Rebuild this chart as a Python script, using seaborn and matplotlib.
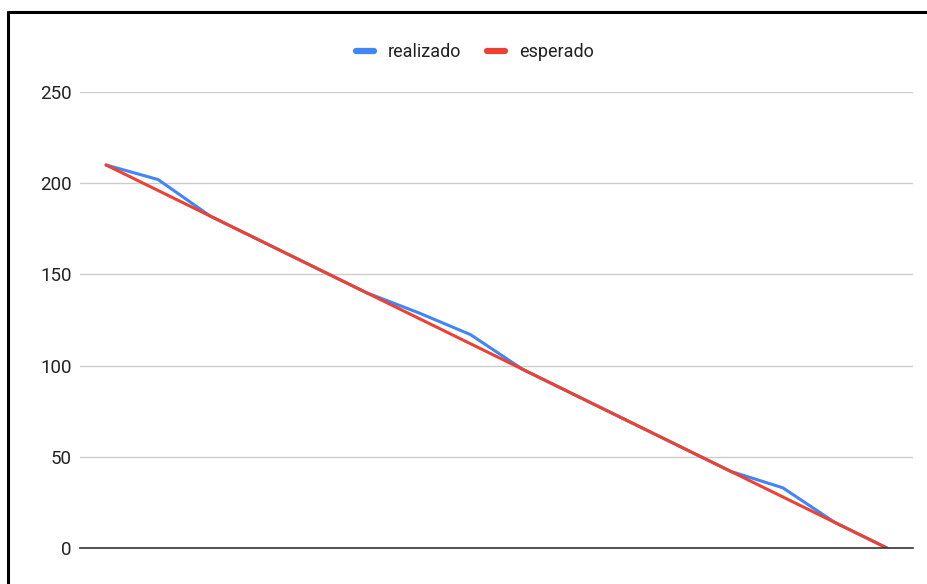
import pandas as pd
import matplotlib.pyplot as plt
import seaborn as sns
from matplotlib.lines import Line2D

# Data
steps = list(range(16))
realizado = [210, 202, 182, 168, 154, 140, 129, 117, 98, 84, 70, 56, 42, 33, 14, 0]
esperado = [210, 196, 182, 168, 154, 140, 126, 112, 98, 84, 70, 56, 42, 28, 14, 0]
y_ticks = [0, 50, 100, 150, 200, 250]

sns.set_theme(style="white")
plt.rcParams['font.family'] = ['Roboto', 'DejaVu Sans']

df = pd.DataFrame({
    'step': steps * 2,
    'valor': realizado + esperado,
    'serie': ['realizado'] * len(steps) + ['esperado'] * len(steps),
})

fig = plt.figure(figsize=(9.28, 5.84), dpi=100)
ax = fig.add_axes([80 / 928, 1 - 548 / 584, (913 - 80) / 928, (548 - 92) / 584])

sns.lineplot(data=df, x='step', y='valor', hue='serie',
             palette={'realizado': '#4285F4', 'esperado': '#EA4335'},
             linewidth=2.2, ax=ax, legend=False)

ax.set_xlim(-0.5, len(steps) - 0.5)
ax.set_ylim(0, 250)
ax.set_yticks(y_ticks)
ax.set_xticks([])
ax.set_xlabel('')
ax.set_ylabel('')
ax.grid(axis='y', color='#cccccc', linewidth=1)
ax.set_axisbelow(True)
for side in ['top', 'right', 'left']:
    ax.spines[side].set_visible(False)
ax.spines['bottom'].set_color('#333333')
ax.spines['bottom'].set_linewidth(1.2)
ax.tick_params(axis='y', length=0, pad=6, labelsize=13.5, labelcolor='#222222')

handles = [Line2D([0], [0], color='#4285F4', linewidth=4.5, solid_capstyle='round'),
           Line2D([0], [0], color='#EA4335', linewidth=4.5, solid_capstyle='round')]
fig.legend(handles, ['realizado', 'esperado'], loc='center',
           bbox_to_anchor=(475 / 928, 1 - 52 / 584), ncol=2, frameon=False,
           handlelength=1.0, handletextpad=0.75, columnspacing=1.45,
           fontsize=13, labelcolor='#222222')

# black frame at top and left, as in the screenshot
fig.add_artist(Line2D([8 / 928, 1], [1 - 11.5 / 584, 1 - 11.5 / 584],
                      color='black', linewidth=2.2, transform=fig.transFigure))
fig.add_artist(Line2D([8 / 928, 8 / 928], [0, 1 - 11.5 / 584],
                      color='black', linewidth=2.2, transform=fig.transFigure))

fig.savefig('out.png', dpi=100, facecolor='white')
